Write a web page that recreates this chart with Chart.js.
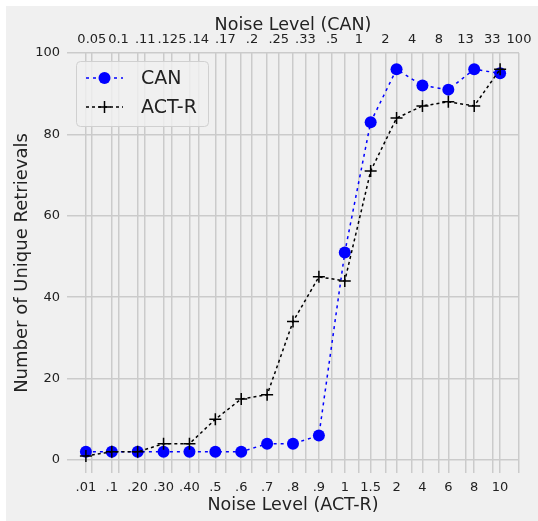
<!DOCTYPE html>
<html>
<head>
<meta charset="utf-8">
<script src="https://cdn.jsdelivr.net/npm/chart.js@4/dist/chart.umd.min.js"></script>
<style>
  html, body { margin: 0; padding: 0; background: #fff; }
  #wrap { width: 538px; height: 521px; }
</style>
</head>
<body>
<div id="wrap"><canvas id="c" width="538" height="521"></canvas></div>
<script>
// noise levels on the two axes
const bottomLabels = ['.01', '.1', '.20', '.30', '.40', '.5', '.6', '.7', '.8', '.9', '1', '1.5', '2', '4', '6', '8', '10'];
const topLabels = ['0.05', '0.1', '.11', '.125', '.14', '.17', '.2', '.25', '.33', '.5', '1', '2', '4', '8', '13', '33', '100'];
// unique retrievals
const canValues = [2, 2, 2, 2, 2, 2, 2, 4, 4, 6, 51, 83, 96, 92, 91, 96, 95];
const actrValues = [1, 2, 2, 4, 4, 10, 15, 16, 34, 45, 44, 71, 84, 87, 88, 87, 96];
const yTicks = [0, 20, 40, 60, 80, 100];

const FONT = 'DejaVu Sans';
const TXT = '#222';
const GRID = '#cbcbcb';

const bg = {
  id: 'bg',
  beforeDraw(chart) {
    const ctx = chart.ctx;
    ctx.save();
    ctx.fillStyle = '#fff';
    ctx.fillRect(0, 0, chart.width, chart.height);
    ctx.fillStyle = '#f0f0f0';
    ctx.fillRect(6, 6, chart.width - 6, chart.height - 6);
    ctx.restore();
  }
};

// matplotlib-like legend box in the upper left
const mplLegend = {
  id: 'mplLegend',
  afterDatasetsDraw(chart) {
    const ctx = chart.ctx;
    ctx.save();
    ctx.beginPath();
    ctx.roundRect(76.5, 61.5, 132, 65, 4);
    ctx.fillStyle = 'rgba(240,240,240,0.8)';
    ctx.fill();
    ctx.strokeStyle = '#d0d0d0';
    ctx.lineWidth = 1;
    ctx.stroke();

    const rows = [78, 107];
    chart.data.datasets.forEach((ds, i) => {
      const y = rows[i];
      ctx.beginPath();
      ctx.setLineDash(ds.borderDash);
      ctx.strokeStyle = ds.borderColor;
      ctx.lineWidth = ds.borderWidth;
      ctx.moveTo(86, y);
      ctx.lineTo(123, y);
      ctx.stroke();
      ctx.setLineDash([]);
      if (ds.pointStyle === 'circle') {
        ctx.beginPath();
        ctx.arc(104.5, y, ds.pointRadius, 0, Math.PI * 2);
        ctx.fillStyle = ds.pointBackgroundColor;
        ctx.fill();
      } else {
        ctx.beginPath();
        ctx.strokeStyle = ds.pointBorderColor;
        ctx.lineWidth = ds.pointBorderWidth;
        ctx.moveTo(104.5 - ds.pointRadius, y);
        ctx.lineTo(104.5 + ds.pointRadius, y);
        ctx.moveTo(104.5, y - ds.pointRadius);
        ctx.lineTo(104.5, y + ds.pointRadius);
        ctx.stroke();
      }
      ctx.fillStyle = TXT;
      ctx.font = '19px "' + FONT + '"';
      ctx.textBaseline = 'middle';
      ctx.textAlign = 'left';
      ctx.fillText(ds.label, 141, y + 1);
    });
    ctx.restore();
  }
};

new Chart(document.getElementById('c'), {
  type: 'line',
  data: {
    datasets: [
      {
        label: 'CAN',
        data: canValues.map((v, i) => ({ x: i, y: v })),
        borderColor: '#0000ff',
        borderWidth: 1.5,
        borderDash: [3, 4],
        pointStyle: 'circle',
        pointRadius: 6,
        pointBackgroundColor: '#0000ff',
        pointBorderColor: '#0000ff',
        pointBorderWidth: 0,
        xAxisID: 'x',
        order: 1
      },
      {
        label: 'ACT-R',
        data: actrValues.map((v, i) => ({ x: i, y: v })),
        borderColor: '#000',
        borderWidth: 1.5,
        borderDash: [3, 3],
        pointStyle: 'cross',
        pointRadius: 6,
        pointBorderColor: '#000',
        pointBackgroundColor: '#000',
        pointBorderWidth: 1.5,
        xAxisID: 'x',
        order: 0
      }
    ]
  },
  options: {
    responsive: false,
    animation: false,
    layout: { padding: { top: 0, right: 19, bottom: 0, left: 0 } },
    plugins: {
      legend: { display: false },
      tooltip: { enabled: false }
    },
    scales: {
      x: {
        type: 'linear',
        position: 'bottom',
        min: -0.73,
        max: 16.73,
        afterBuildTicks: s => { s.ticks = bottomLabels.map((_, i) => ({ value: i })); },
        afterFit: s => { s.height = 48; },
        ticks: {
          callback: v => bottomLabels[v],
          autoSkip: false,
          maxRotation: 0,
          padding: 7,
          color: TXT,
          font: { family: FONT, size: 13 }
        },
        grid: { color: GRID, lineWidth: 1.5, drawTicks: false },
        border: { display: false },
        title: {
          display: true,
          text: 'Noise Level (ACT-R)',
          color: TXT,
          font: { family: FONT, size: 17.5 },
          padding: { top: 0, bottom: 5 }
        }
      },
      x2: {
        type: 'linear',
        position: 'top',
        min: -0.93,
        max: 16,
        afterBuildTicks: s => { s.ticks = topLabels.map((_, i) => ({ value: i })); },
        afterFit: s => { s.height = 53; },
        ticks: {
          callback: v => topLabels[v],
          autoSkip: false,
          maxRotation: 0,
          padding: 6,
          color: TXT,
          font: { family: FONT, size: 13 }
        },
        grid: { color: GRID, lineWidth: 1.5, drawTicks: false },
        border: { display: false },
        title: {
          display: true,
          text: 'Noise Level (CAN)',
          color: TXT,
          font: { family: FONT, size: 17.5 },
          padding: { top: 15, bottom: 0 }
        }
      },
      y: {
        min: -3.2,
        max: 100,
        afterBuildTicks: s => { s.ticks = yTicks.map(v => ({ value: v })); },
        afterFit: s => { s.width = 67; },
        ticks: {
          padding: 7,
          color: TXT,
          font: { family: FONT, size: 13 }
        },
        grid: { color: GRID, lineWidth: 1.5, drawTicks: false },
        border: { display: false },
        title: {
          display: true,
          text: 'Number of Unique Retrievals',
          color: TXT,
          font: { family: FONT, size: 18 },
          padding: { top: 12, bottom: 0 }
        }
      }
    }
  },
  plugins: [bg, mplLegend]
});
</script>
</body>
</html>
